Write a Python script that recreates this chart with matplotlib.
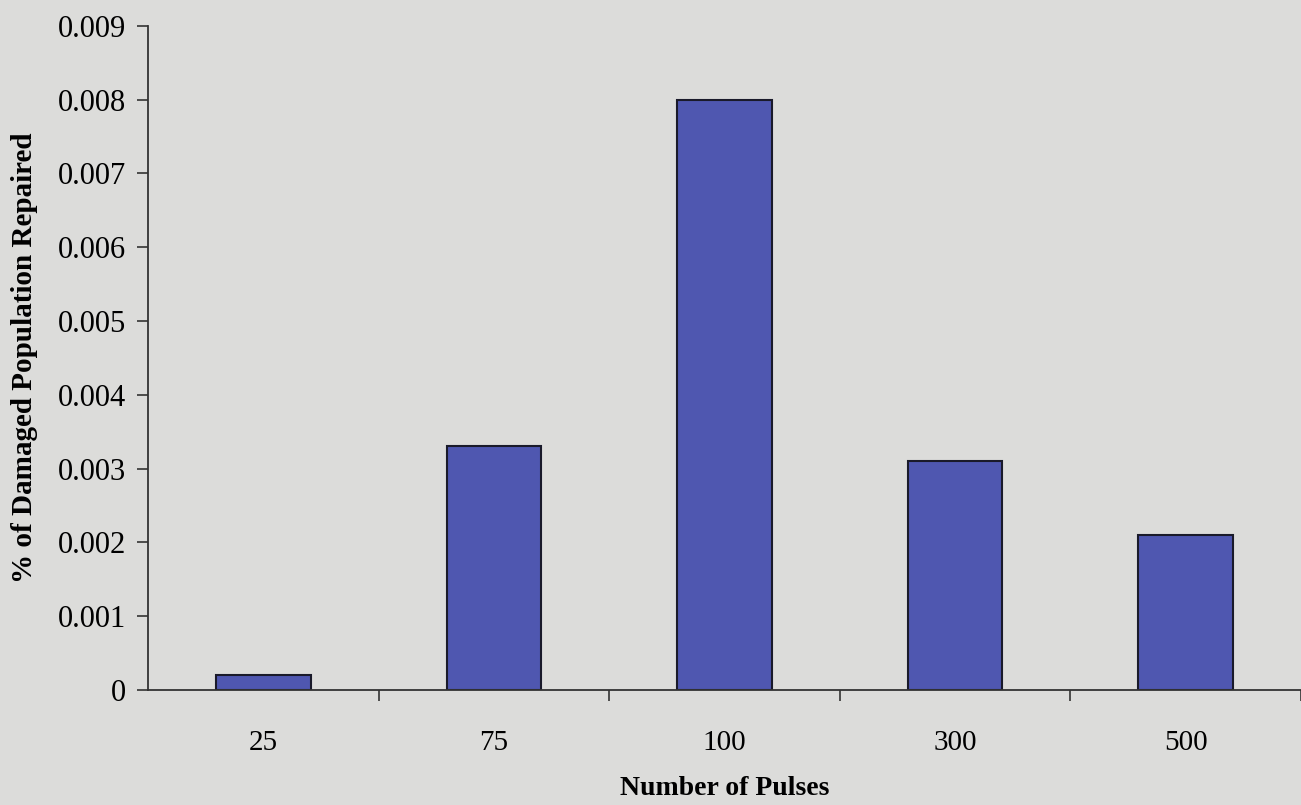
import matplotlib
matplotlib.use("Agg")
import matplotlib.pyplot as plt
import numpy as np

pulses = ["25", "75", "100", "300", "500"]
repaired = [0.0002, 0.0033, 0.0080, 0.0031, 0.0021]
y_ticks = [0, 0.001, 0.002, 0.003, 0.004, 0.005, 0.006, 0.007, 0.008, 0.009]
y_tick_labels = ["0", "0.001", "0.002", "0.003", "0.004", "0.005", "0.006", "0.007", "0.008", "0.009"]

bg = "#dcdcda"
plt.rcParams['font.family'] = ['Liberation Serif', 'DejaVu Serif']

fig = plt.figure(figsize=(13.01, 8.05), dpi=100, facecolor=bg)
ax = fig.add_axes([0.114, 0.143, 0.886, 0.825], facecolor=bg)

x = np.arange(len(pulses))
ax.bar(x, repaired, width=0.41, color="#4f57b0", edgecolor="#1a1a2a", linewidth=1.5, zorder=2)

ax.set_xlim(-0.5, 4.42)
ax.set_ylim(0, 0.009)
ax.set_yticks(y_ticks)
ax.set_yticklabels(y_tick_labels, fontsize=22)
ax.set_xticks(x)
ax.set_xticklabels(pulses, fontsize=21)
ax.set_xticks(np.arange(len(pulses)) + 0.5, minor=True)

ax.tick_params(axis="y", direction="out", length=8, width=1.2, pad=8, color="#333333")
ax.tick_params(axis="x", which="major", length=0, pad=29)
ax.tick_params(axis="x", which="minor", direction="out", length=8, width=1.2, color="#333333")

for side in ["top", "right"]:
    ax.spines[side].set_visible(False)
for side in ["left", "bottom"]:
    ax.spines[side].set_color("#333333")
    ax.spines[side].set_linewidth(1.3)

ax.set_xlabel("Number of Pulses", fontsize=20, fontweight="bold", labelpad=14)
ax.set_ylabel("% of Damaged Population Repaired", fontsize=21, fontweight="bold", labelpad=14)

fig.savefig("out.png", dpi=100, facecolor=bg)
